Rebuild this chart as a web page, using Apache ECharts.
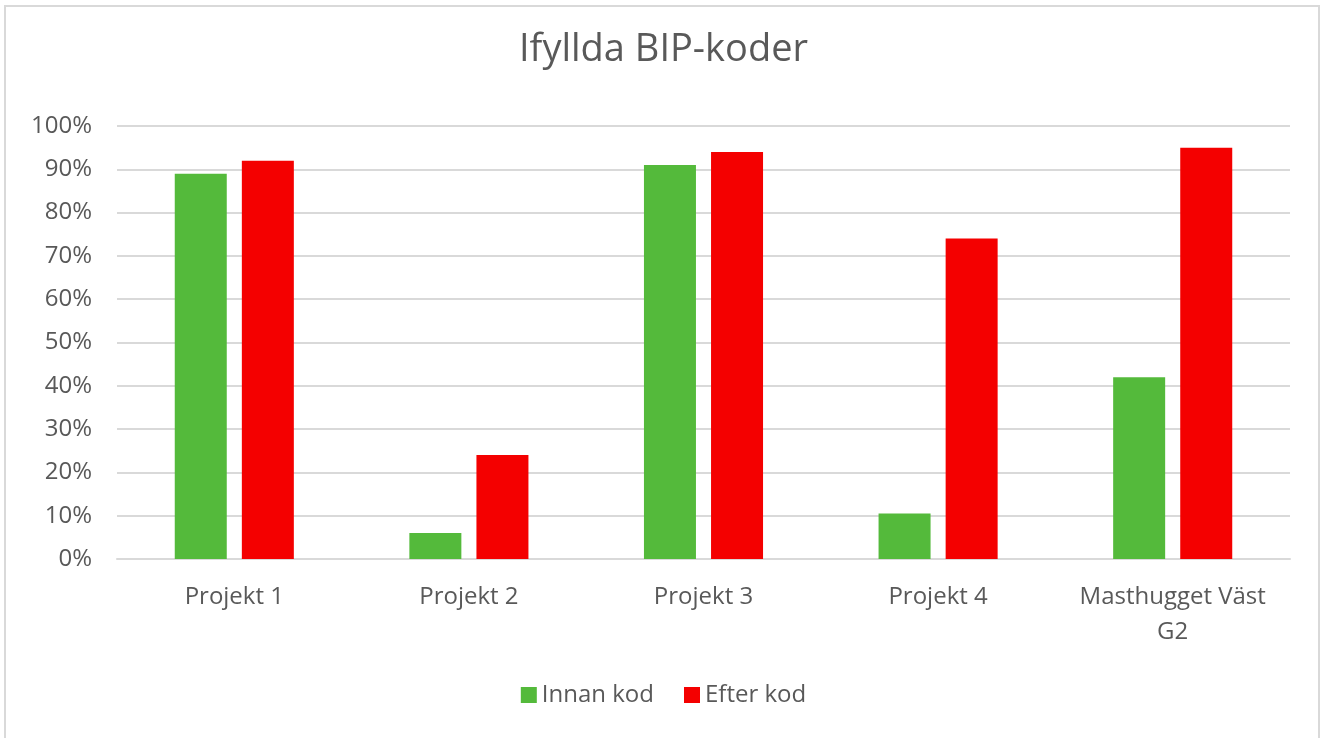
<!DOCTYPE html>
<html>
<head>
<meta charset="utf-8">
<title>Ifyllda BIP-koder</title>
<script src="https://cdn.jsdelivr.net/npm/echarts@6/dist/echarts.min.js"></script>
<style>
	html, body {
		margin: 0;
		padding: 0;
		background: #fff;
	}
	#frame {
		position: absolute;
		left: 4px;
		top: 5px;
		width: 1316px;
		height: 740px;
		border: 2px solid #d9d9d9;
		box-sizing: border-box;
		pointer-events: none;
	}
	#chart {
		width: 1327px;
		height: 738px;
	}
</style>
</head>
<body>
<div id="chart"></div>
<div id="frame"></div>
<script>
	// kategorier och värden (andel, %)
	var categories = ['Projekt 1', 'Projekt 2', 'Projekt 3', 'Projekt 4', 'Masthugget Väst\nG2'];
	var innanKod = [89, 6, 91, 10.5, 42];
	var efterKod = [92, 24, 94, 74, 95];
	var seriesNames = ['Innan kod', 'Efter kod'];
	var colors = ['#54BA3B', '#F40000'];

	var textC = '#595959';
	var fontF = '"Open Sans", "Noto Sans", sans-serif';

	var myChart = echarts.init(document.getElementById('chart'));
	var option = {
		animation: false,
		color: colors,
		title: {
			text: 'Ifyllda BIP-koder',
			left: 'center',
			top: 26,
			textStyle: {
				color: textC,
				fontFamily: fontF,
				fontWeight: 'normal',
				fontSize: 38
			}
		},
		legend: {
			bottom: 26,
			left: 'center',
			itemWidth: 16,
			itemHeight: 16,
			itemGap: 30,
			icon: 'rect',
			textStyle: {
				color: textC,
				fontFamily: fontF,
				fontSize: 24
			},
			data: seriesNames
		},
		grid: {
			left: 117,
			right: 37,
			top: 126,
			bottom: 179,
			containLabel: false
		},
		xAxis: {
			type: 'category',
			data: categories,
			axisTick: { show: false },
			axisLine: { lineStyle: { color: '#d9d9d9', width: 2 } },
			axisLabel: {
				interval: 0,
				hideOverlap: false,
				color: textC,
				fontFamily: fontF,
				fontSize: 24,
				margin: 21,
				lineHeight: 35
			}
		},
		yAxis: {
			type: 'value',
			min: 0,
			max: 100,
			interval: 10,
			axisLine: { show: false },
			axisTick: { show: false },
			axisLabel: {
				color: textC,
				fontFamily: fontF,
				fontSize: 24,
				margin: 25,
				formatter: '{value}%'
			},
			splitLine: { lineStyle: { color: '#d9d9d9', width: 2 } }
		},
		series: [{
			name: seriesNames[0],
			type: 'bar',
			data: innanKod,
			barWidth: 52,
			barGap: '29%'
		}, {
			name: seriesNames[1],
			type: 'bar',
			data: efterKod,
			barWidth: 52,
			barGap: '29%'
		}]
	};
	myChart.setOption(option);
</script>
</body>
</html>
